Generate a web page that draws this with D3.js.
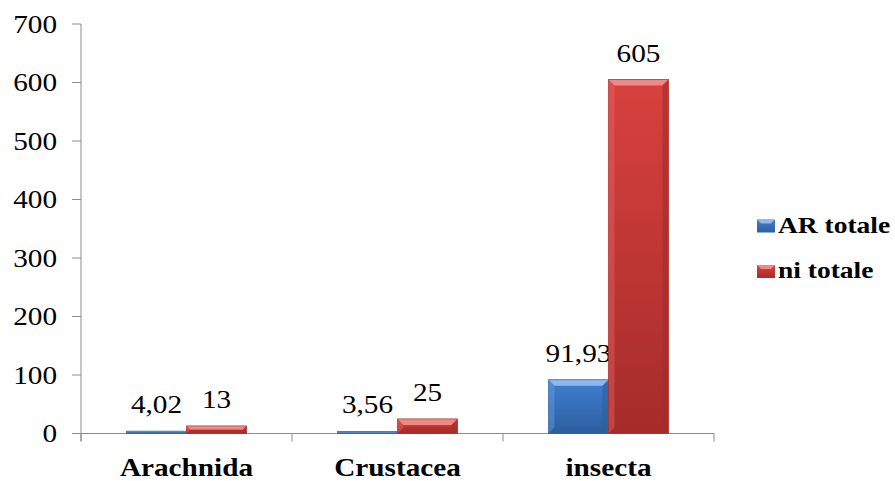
<!DOCTYPE html>
<html><head><meta charset="utf-8">
<script src="https://cdn.jsdelivr.net/npm/d3@7"></script>
<style>body{margin:0;background:#fff}svg{display:block}
text{font-family:"Liberation Serif","Times New Roman","DejaVu Serif",serif}</style>
</head><body>
<script>
const categories = ["Arachnida", "Crustacea", "insecta"];
const seriesNames = ["AR totale", "ni totale"];
const arTotale = [4.02, 3.56, 91.93];
const niTotale = [13, 25, 605];
const arLabels = ["4,02", "3,56", "91,93"];
const niLabels = ["13", "25", "605"];
const yTicks = [0, 100, 200, 300, 400, 500, 600, 700];

const W = 895, H = 481;
const SX = 1.17;
const svg = d3.select("body").append("svg").attr("width", W).attr("height", H);
const defs = svg.append("defs");

const x = d3.scaleBand().domain(categories).range([81, 714]).paddingInner(0).paddingOuter(0);
const y = d3.scaleLinear().domain([0, 700]).range([433.5, 24]);
const xs = d3.scaleBand().domain(seriesNames).range([0, x.bandwidth()]).paddingInner(0).paddingOuter(0.758).align(0.5);

const colors = {
  "AR totale": {base: "#3f7fcf", light: "#6fa3e3", dark: "#2d5f9f", top: "#8bb8ee"},
  "ni totale": {base: "#d8413e", light: "#e86a67", dark: "#a52c2a", top: "#f08886"}
};
seriesNames.forEach((s, i) => {
  const c = colors[s];
  const g = defs.append("linearGradient").attr("id", "g" + i).attr("x1", 0).attr("x2", 0).attr("y1", 0).attr("y2", 1);
  g.append("stop").attr("offset", 0).attr("stop-color", c.base);
  g.append("stop").attr("offset", 1).attr("stop-color", c.dark);
});

function txt(sel, xPos, yPos, str, size, weight, anchor) {
  return sel.append("text")
    .attr("transform", `translate(${xPos},${yPos}) scale(${SX},1)`)
    .attr("text-anchor", anchor || "middle")
    .attr("font-family", "Liberation Serif, Times New Roman, DejaVu Serif, serif")
    .style("font-size", size + "px")
    .style("font-weight", weight || "normal")
    .attr("fill", "#000")
    .text(str);
}

// Axes
const axisColor = "#8c8c8c";
const ax = svg.append("g");
ax.append("line").attr("x1", 81).attr("x2", 81).attr("y1", y(700)).attr("y2", y(0) + 8).attr("stroke", axisColor).attr("stroke-width", 1);
ax.append("line").attr("x1", 81).attr("x2", 714).attr("y1", y(0)).attr("y2", y(0)).attr("stroke", axisColor);
yTicks.forEach(t => {
  ax.append("line").attr("x1", 72).attr("x2", 81).attr("y1", y(t)).attr("y2", y(t)).attr("stroke", axisColor);
  txt(svg, 57, y(t) + 8.5, String(t), 25, "normal", "end");
});
[...categories.map(c => x(c)), 714].forEach(px => {
  ax.append("line").attr("x1", px).attr("x2", px).attr("y1", y(0)).attr("y2", y(0) + 8).attr("stroke", axisColor);
});
categories.forEach(c => {
  txt(svg, x(c) + x.bandwidth() / 2, 476, c, 25, "bold");
});

// Bars
const data = [arTotale, niTotale];
const labels = [arLabels, niLabels];
seriesNames.forEach((s, si) => {
  const c = colors[s];
  categories.forEach((cat, ci) => {
    const v = data[si][ci];
    const x0 = x(cat) + xs(s), bw = xs.bandwidth();
    const y0 = y(v), y1 = y(0);
    const h = y1 - y0;
    const g = svg.append("g");
    g.append("rect").attr("x", x0).attr("y", y0).attr("width", bw).attr("height", h).attr("fill", `url(#g${si})`);
    const b = Math.min(6, h / 2);
    if (h > 2) {
      g.append("polygon").attr("points", `${x0},${y0} ${x0 + bw},${y0} ${x0 + bw - b},${y0 + b} ${x0 + b},${y0 + b}`).attr("fill", c.top);
      g.append("polygon").attr("points", `${x0},${y0} ${x0 + b},${y0 + b} ${x0 + b},${y1 - b} ${x0},${y1}`).attr("fill", c.light).attr("opacity", 0.4);
      g.append("polygon").attr("points", `${x0 + bw},${y0} ${x0 + bw - b},${y0 + b} ${x0 + bw - b},${y1 - b} ${x0 + bw},${y1}`).attr("fill", c.dark).attr("opacity", 0.6);
      g.append("polygon").attr("points", `${x0},${y1} ${x0 + b},${y1 - b} ${x0 + bw - b},${y1 - b} ${x0 + bw},${y1}`).attr("fill", c.dark).attr("opacity", 0.5);
    }
    g.append("rect").attr("x", x0).attr("y", y0).attr("width", bw).attr("height", h).attr("fill", "none").attr("stroke", c.dark).attr("stroke-width", 0.8).attr("opacity", 0.8);
    txt(svg, x0 + bw / 2, y0 - 18, labels[si][ci], 25, "normal");
  });
});

// Legend
const legTop = [219.5, 265];
seriesNames.forEach((s, si) => {
  const c = colors[s];
  const ty = legTop[si];
  const g = svg.append("g");
  g.append("rect").attr("x", 757).attr("y", ty).attr("width", 18).attr("height", 13).attr("fill", `url(#g${si})`);
  g.append("polygon").attr("points", `757,${ty} 775,${ty} 771,${ty + 4} 761,${ty + 4}`).attr("fill", c.top);
  txt(svg, 778, ty + 13, s, 23.5, "bold", "start");
});
</script>
</body></html>
